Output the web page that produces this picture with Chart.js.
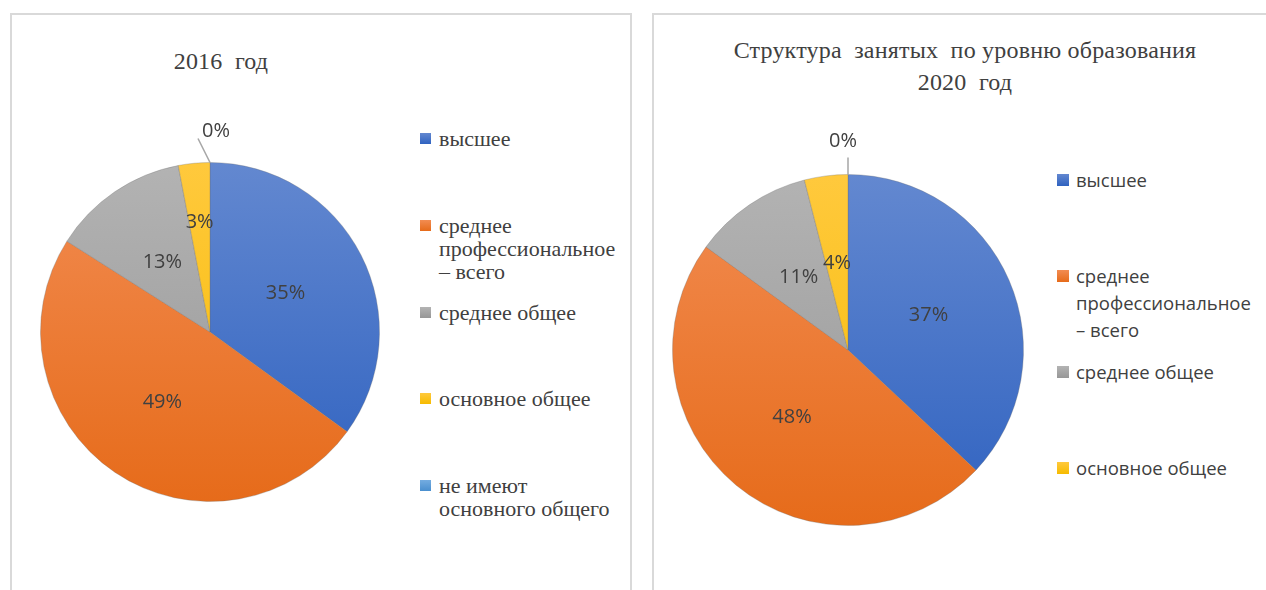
<!DOCTYPE html>
<html>
<head>
<meta charset="utf-8">
<script src="https://cdn.jsdelivr.net/npm/chart.js@4/dist/chart.umd.min.js"></script>
<style>
  body { margin:0; width:1266px; height:590px; background:#fff; position:relative; overflow:hidden; }
  .panel { position:absolute; top:13px; height:620px; border:2px solid #d9d9d9; box-sizing:border-box; }
  canvas { position:absolute; top:0; }
  .title { position:absolute; text-align:center; color:#404040; white-space:pre;
           font-family:"Liberation Serif", "Times New Roman", serif; font-size:24px; letter-spacing:0.2px; }
  .legend { position:absolute; color:#404040; }
  .legend .item { position:absolute; left:0; }
  .legend .sq { position:absolute; left:0; }
  .legend .txt { position:absolute; }
</style>
</head>
<body>
<div class="panel" style="left:10px;width:622px"></div>
<div class="panel" style="left:652px;width:700px"></div>

<div class="title" style="left:0;width:442px;top:46px;line-height:30px">2016  год</div>
<div class="title" style="left:665px;width:600px;top:34px;line-height:32px">Структура  занятых  по уровню образования
2020  год</div>

<div id="legend2016" class="legend" style="left:420px;top:127px"></div>
<div id="legend2020" class="legend" style="left:1057px;top:166px"></div>

<canvas id="pie2016" width="632" height="590" style="left:0"></canvas>
<canvas id="pie2020" width="626" height="590" style="left:640px"></canvas>

<script>
// =========================
// DATA
// =========================
const categories = [
  'высшее',
  'среднее профессиональное – всего',
  'среднее общее',
  'основное общее',
  'не имеют основного общего'
];
const values2016 = [35, 49, 13, 3, 0];
const values2020 = [37, 48, 11, 4, 0];

// office palette, gradient top / bottom
const COLOR_TOP    = ['#6388d0', '#f28c52', '#b3b3b3', '#ffc93d', '#74ace0'];
const COLOR_BOTTOM = ['#2f62c0', '#e66b1a', '#979797', '#f6bb00', '#4a8fcf'];

// excel-ish top-to-bottom gradient per slice
function sliceFill(c) {
  const i = c.dataIndex % COLOR_TOP.length;
  const a = c.chart.chartArea;
  if (!a) return COLOR_BOTTOM[i];
  const g = c.chart.ctx.createLinearGradient(0, a.top, 0, a.bottom);
  g.addColorStop(0, COLOR_TOP[i]);
  g.addColorStop(1, COLOR_BOTTOM[i]);
  return g;
}

// =========================
// PERCENT LABELS (inside + leader for 0%)
// =========================
const pieLabels = {
  id: 'pieLabels',
  afterDatasetsDraw(chart, args, opts) {
    const ctx = chart.ctx;
    const vals = chart.data.datasets[0].data;
    const meta = chart.getDatasetMeta(0);
    ctx.save();
    ctx.font = '20px "Open Sans"';
    ctx.fillStyle = '#404040';
    ctx.textAlign = 'center';
    ctx.textBaseline = 'middle';
    meta.data.forEach((arc, i) => {
      const p = arc.getProps(['x', 'y', 'startAngle', 'endAngle', 'outerRadius'], true);
      const txt = vals[i] + '%';
      if (vals[i] === 0) {
        const ex = p.x + p.outerRadius * Math.cos(p.startAngle);
        const ey = p.y + p.outerRadius * Math.sin(p.startAngle);
        ctx.strokeStyle = '#a6a6a6';
        ctx.lineWidth = 1.5;
        ctx.beginPath();
        ctx.moveTo(ex, ey);
        ctx.lineTo(ex + opts.leader[0], ey + opts.leader[1]);
        ctx.stroke();
        ctx.fillText(txt, ex + opts.zeroText[0], ey + opts.zeroText[1]);
        return;
      }
      const mid = (p.startAngle + p.endAngle) / 2;
      const f = (opts.radial && opts.radial[i]) || 0.5;
      ctx.fillText(txt, p.x + f * p.outerRadius * Math.cos(mid), p.y + f * p.outerRadius * Math.sin(mid));
    });
    ctx.restore();
  }
};

function makePie(id, values, padding, labelOpts) {
  new Chart(document.getElementById(id), {
    type: 'pie',
    data: {
      labels: categories,
      datasets: [{
        data: values,
        backgroundColor: sliceFill,
        borderColor: 'rgba(110,110,110,0.3)',
        borderWidth: 1,
        hoverOffset: 0
      }]
    },
    options: {
      responsive: false,
      animation: false,
      layout: { padding: padding },
      plugins: {
        legend: { display: false },
        tooltip: { enabled: false },
        pieLabels: labelOpts
      }
    },
    plugins: [pieLabels]
  });
}

// =========================
// HTML LEGENDS
// =========================
function makeLegend(id, count, opt) {
  const box = document.getElementById(id);
  for (let i = 0; i < count; i++) {
    const item = document.createElement('div');
    item.className = 'item';
    item.style.top = (i * opt.pitch) + 'px';
    const sq = document.createElement('div');
    sq.className = 'sq';
    sq.style.width = sq.style.height = opt.sq + 'px';
    sq.style.top = ((opt.lh - opt.sq) / 2) + 'px';
    sq.style.background = 'linear-gradient(' + COLOR_TOP[i] + ',' + COLOR_BOTTOM[i] + ')';
    const tx = document.createElement('div');
    tx.className = 'txt';
    tx.style.left = opt.textLeft + 'px';
    tx.style.width = opt.width + 'px';
    tx.style.fontFamily = opt.family;
    tx.style.fontSize = opt.size + 'px';
    tx.style.lineHeight = opt.lh + 'px';
    tx.textContent = categories[i];
    item.appendChild(sq);
    item.appendChild(tx);
    box.appendChild(item);
  }
}

makeLegend('legend2016', 5, {
  pitch: 86.8, sq: 11, lh: 23, textLeft: 19, width: 177, size: 22,
  family: '"Liberation Serif", "Times New Roman", serif'
});
makeLegend('legend2020', 4, {
  pitch: 96, sq: 12, lh: 27, textLeft: 19, width: 185, size: 18.5,
  family: '"Open Sans", sans-serif'
});

makePie('pie2016', values2016,
  { left: 40, top: 162, right: 252, bottom: 88 },
  { radial: { 3: 0.65 }, leader: [-12, -24], zeroText: [6, -31] });

makePie('pie2020', values2020,
  { left: 32, top: 174, right: 242, bottom: 64 },
  { leader: [0, -17], zeroText: [-5, -33] });
</script>
</body>
</html>
